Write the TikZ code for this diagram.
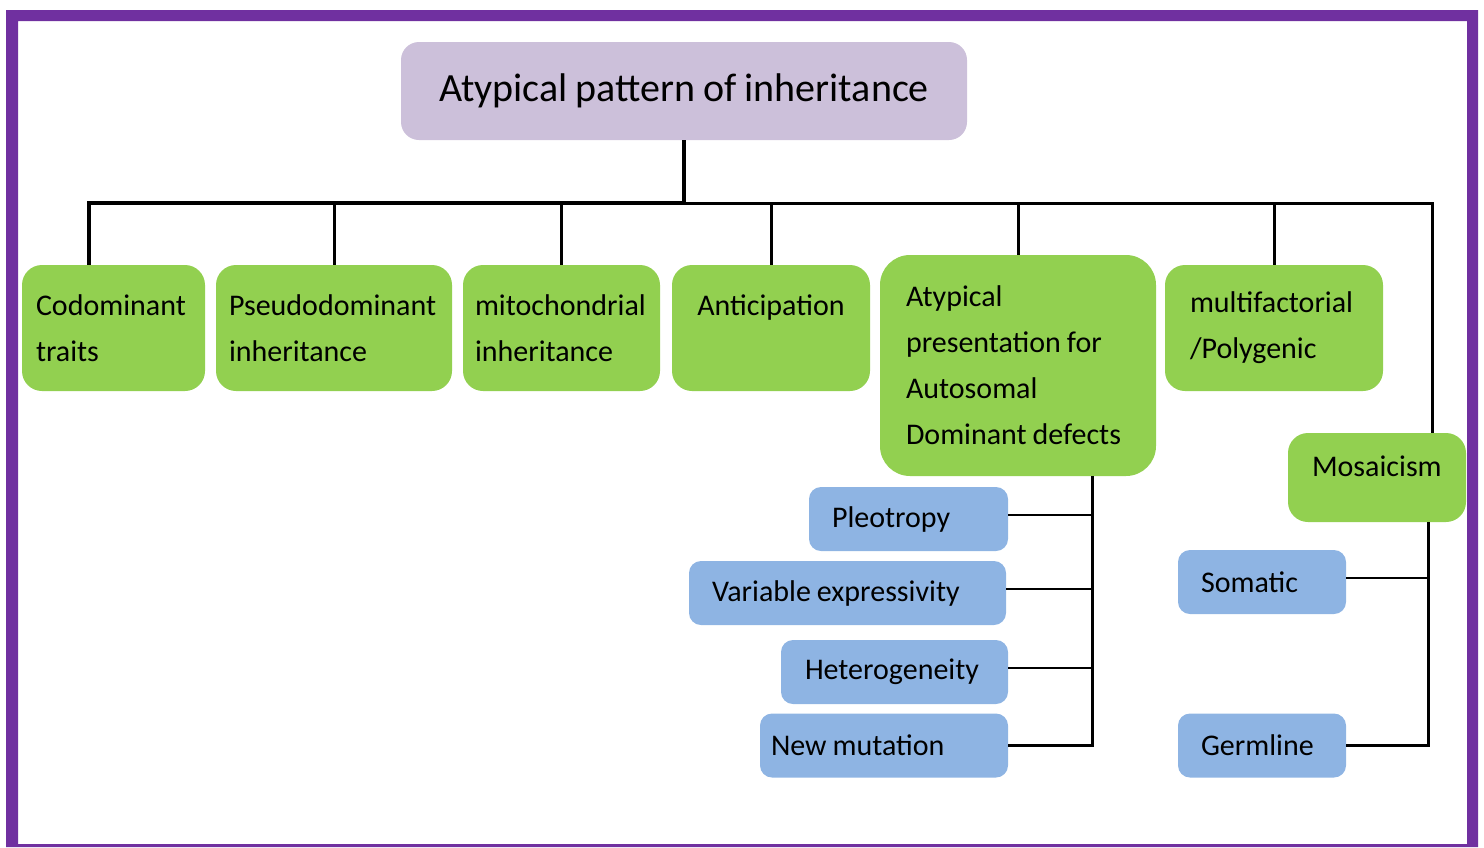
\documentclass[tikz,border=0pt]{standalone}
\usepackage{fontspec}
\setmainfont{Carlito}[WordSpace=0.8]
\usetikzlibrary{positioning}
\definecolor{framepurple}{HTML}{7030A0}
\definecolor{titlelilac}{HTML}{CCC0DA}
\definecolor{boxgreen}{HTML}{92D050}
\definecolor{boxblue}{HTML}{8EB4E3}

\begin{document}
\begin{tikzpicture}[x=0.5pt,y=-0.5pt,
		execute at begin node={\spaceskip=.2em\relax},
		groupbox/.style={fill=boxgreen,rounded corners=10pt,align=left,minimum height=63pt,inner ysep=0pt,font=\fontsize{15}{23}\selectfont},
		subbox/.style={fill=boxblue,rounded corners=6pt,align=left,minimum height=32pt,inner ysep=0pt,font=\fontsize{15}{18}\selectfont},
		bus/.style={line width=2pt},
		trunk/.style={line width=1.5pt},
		link/.style={line width=1.1pt}]
		\useasboundingbox (0,0) rectangle (1484,847);

		\node [fill=titlelilac,rounded corners=9pt,minimum width=283pt,minimum height=49pt,font=\fontsize{20}{24}\selectfont] (title) at (684,91) {Atypical pattern of inheritance};

		\node [groupbox,text width=77.5pt,inner xsep=7pt] (cod) at (113.5,328) {Codominant\\traits};
		\node [groupbox,text width=105pt,inner xsep=6.5pt] (pseudo) at (334,328) {Pseudodominant\\inheritance};
		\node [groupbox,text width=86.5pt,inner xsep=6pt] (mito) at (561.5,328) {mitochondrial\\inheritance};
		\node [groupbox,text width=85pt,inner xsep=7pt,align=center] (antic) at (771,328) {Anticipation\\~};
		\node [groupbox,text width=112pt,inner xsep=13pt,minimum height=110.5pt,rounded corners=15pt] (atyp) at (1018,365.5) {Atypical\\presentation for\\Autosomal\\Dominant defects};
		\node [groupbox,text width=84pt,inner xsep=12.5pt] (multi) at (1274,328) {multifactorial\\/Polygenic};
		\node [groupbox,text width=65pt,inner xsep=12pt,minimum height=44.5pt] (mosaic) at (1377,477.5) {Mosaicism\\[-12pt]~};

		\node [subbox,text width=76.5pt,inner xsep=11.5pt] (pleo) at (908.5,519) {Pleotropy};
		\node [subbox,text width=135.5pt,inner xsep=11.5pt] (varexp) at (847.5,593) {Variable expressivity};
		\node [subbox,text width=89.5pt,inner xsep=12pt] (hetero) at (894.5,672) {Heterogeneity};
		\node [subbox,text width=113pt,inner xsep=5.5pt] (newmut) at (884,745.5) {New mutation};
		\node [subbox,text width=61pt,inner xsep=11.5pt] (somatic) at (1262,582) {Somatic};
		\node [subbox,text width=61pt,inner xsep=11.5pt] (germ) at (1262,745.5) {Germline};

		% top level bus
		\coordinate (busy) at (0,203);
		\coordinate (hub) at (title.south |- busy);
		\draw [trunk] (hub) -| ([xshift=27.5pt]mosaic.north);
		\draw [bus] (title.south) -- (hub) -| ([xshift=-12.5pt]cod.north);
		\foreach \n in {pseudo,mito,antic,atyp,multi}
			\draw [trunk] (\n.north) -- (\n.north |- hub);

		% autosomal dominant branches
		\coordinate (adtrunk) at ([xshift=37pt]atyp.south);
		\draw [trunk] (adtrunk) |- (newmut.east);
		\foreach \n in {pleo,varexp,hetero}
			\draw [link] ([yshift=2pt]\n.east) -- ([yshift=2pt]\n.east -| adtrunk);

		% mosaicism branches
		\coordinate (mostrunk) at ([xshift=25.5pt]mosaic.south);
		\draw [trunk] (mostrunk) |- (germ.east);
		\draw [link] ([yshift=2pt]somatic.east) -- ([yshift=2pt]somatic.east -| mostrunk);

		% frame
		\fill [framepurple,even odd rule] (6,10) rectangle (1478,847) (18,21) rectangle (1467,844);
	\end{tikzpicture}
\end{document}
